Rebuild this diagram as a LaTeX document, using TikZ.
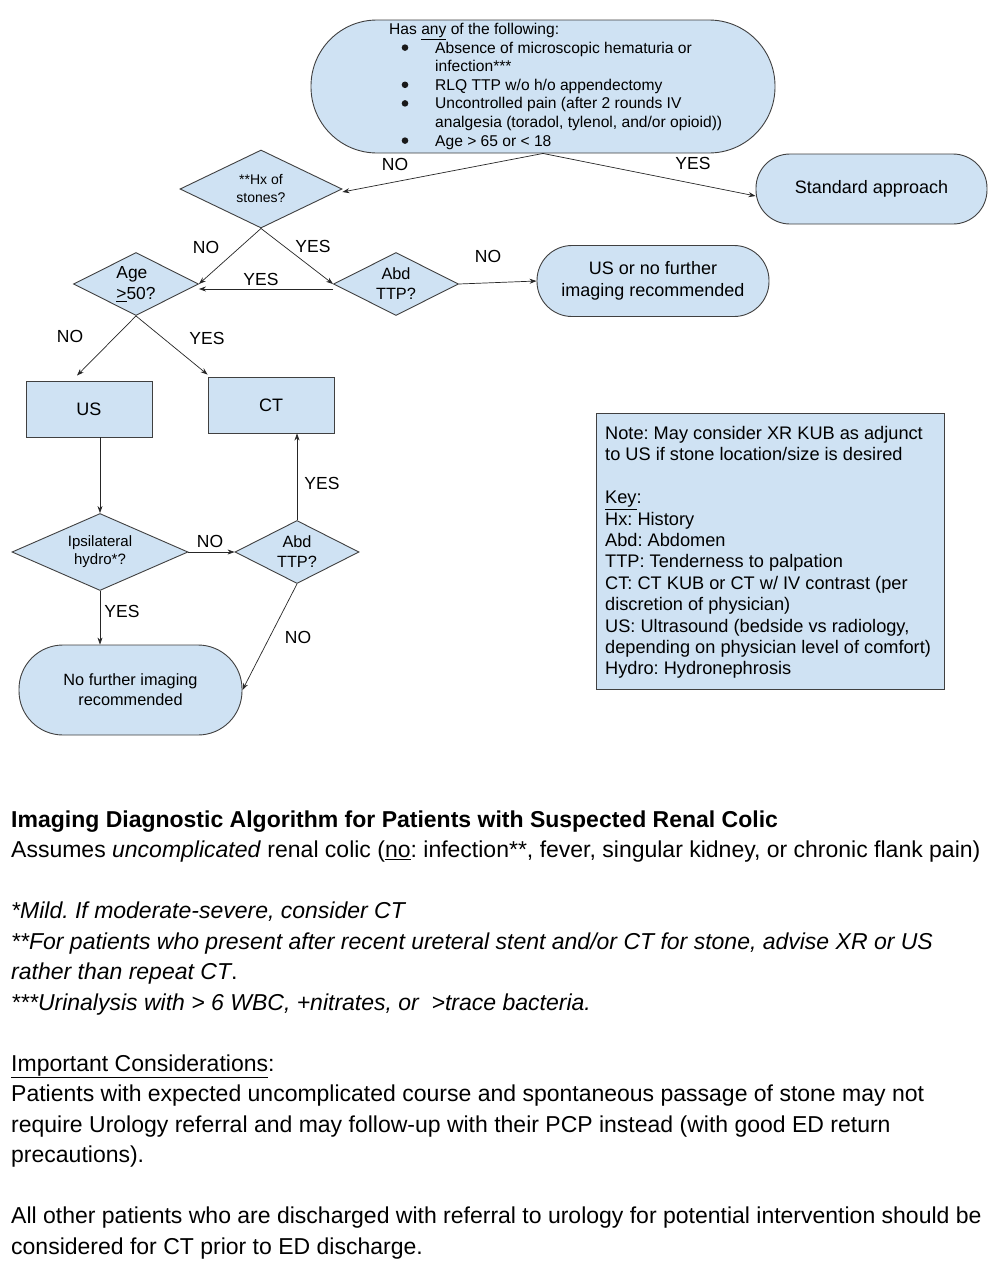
\documentclass[tikz,border=0pt]{standalone}
\usepackage{fontspec}
\setmainfont{Liberation Sans}
\usetikzlibrary{shapes.geometric,arrows.meta,calc}
\definecolor{boxfill}{HTML}{CFE2F3}
\definecolor{boxline}{HTML}{404040}
\begin{document}
\frenchspacing
\begin{tikzpicture}[x=1pt,y=-1pt,
  base/.style={draw=boxline, fill=boxfill, line width=0.9pt, inner sep=0pt, align=center},
  stadium/.style={base, rectangle, rounded corners=#1},
  box/.style={base, rectangle},
  decision/.style={base, diamond},
  arr/.style={-{Stealth[length=7pt,width=5pt]}, line width=0.7pt, black!85},
  lbl/.style={font=\fontsize{17.5}{20}\selectfont, inner sep=0pt},
  bul/.style={fill=black!90},
]
\useasboundingbox[fill=white] (0,0) rectangle (1006,1266);

% nodes
\node[stadium=66pt, minimum width=464pt, minimum height=133pt] (top) at (543,86.5) {};
\node[anchor=north west, inner sep=0pt, align=left, font=\fontsize{15.6}{18.6}\selectfont] (toptext) at (389,23) {Has \underline{any} of the following:\\
\hspace*{46pt}Absence of microscopic hematuria or\\
\hspace*{46pt}infection***\\
\hspace*{46pt}RLQ TTP w/o h/o appendectomy\\
\hspace*{46pt}Uncontrolled pain (after 2 rounds IV\\
\hspace*{46pt}analgesia (toradol, tylenol, and/or opioid))\\
\hspace*{46pt}Age > 65 or < 18};
\fill[bul] (405,47.6) circle (3.3pt);
\fill[bul] (405,84.8) circle (3.3pt);
\fill[bul] (405,103.4) circle (3.3pt);
\fill[bul] (405,140.6) circle (3.3pt);

\node[stadium=34pt, minimum width=231pt, minimum height=70pt, font=\fontsize{18}{21.4}\selectfont] (std) at (871.5,189) {Standard approach};
\node[decision, minimum width=162pt, minimum height=78pt, shape aspect=2.08, font=\fontsize{14}{18}\selectfont] (hx) at (261,189) {**Hx of\\stones?};
\node[decision, minimum width=125pt, minimum height=63pt, shape aspect=1.98, font=\fontsize{16.3}{20}\selectfont] (abdA) at (396,284) {Abd\\TTP?};
\node[decision, minimum width=125pt, minimum height=63pt, shape aspect=1.98, align=left, font=\fontsize{17.4}{21}\selectfont] (age) at (136,284) {Age\\\underline{>}50?};
\node[stadium=35pt, minimum width=232pt, minimum height=71pt, font=\fontsize{18}{21.4}\selectfont] (usno) at (653,281) {US or no further\\imaging recommended};
\node[box, minimum width=126pt, minimum height=56pt, font=\fontsize{18}{21.4}\selectfont] (us) at (89,409) {US};
\node[box, minimum width=126pt, minimum height=56pt, font=\fontsize{18}{21.4}\selectfont] (ct) at (271,405) {CT};
\node[decision, minimum width=176pt, minimum height=77pt, shape aspect=2.29, font=\fontsize{15}{18}\selectfont] (ipsi) at (100,552) {Ipsilateral\\hydro*?};
\node[decision, minimum width=124pt, minimum height=63pt, shape aspect=1.97, font=\fontsize{16.3}{20}\selectfont] (abdB) at (297,552) {Abd\\TTP?};
\node[stadium=44pt, minimum width=223pt, minimum height=90pt, font=\fontsize{16.3}{20}\selectfont] (nof) at (130.5,690) {No further imaging\\recommended};

\node[box, minimum width=348pt, minimum height=276pt] (note) at (770,551) {};
\node[anchor=north west, inner sep=0pt, align=left, font=\fontsize{18.2}{21.4}\selectfont] (notetext) at (605,426.2) {Note: May consider XR KUB as adjunct\\
to US if stone location/size is desired\\[21.4pt]
\underline{Key}:\\
Hx: History\\
Abd: Abdomen\\
TTP: Tenderness to palpation\\
CT: CT KUB or CT w/ IV contrast (per\\
discretion of physician)\\
US: Ultrasound (bedside vs radiology,\\
depending on physician level of comfort)\\
Hydro: Hydronephrosis};

% connectors
\draw[arr] (top.south) -- ($(hx.east)+(0,3)$);
\draw[arr] (top.south) -- ($(std.west)+(0,7)$);
\draw[arr] (hx.south) -- (age.east);
\draw[arr] (hx.south) -- (abdA.west);
\draw[arr] ($(abdA.west)+(0,5)$) -- ($(age.east)+(0,5)$);
\draw[arr] (abdA.east) -- (usno.west);
\draw[arr] (age.south) -- ($(us.north)+(-12,-5)$);
\draw[arr] (age.south) -- ($(ct.north west)+(0,-2)$);
\draw[arr] (us.south -| ipsi.north) -- (ipsi.north);
\draw[arr] (ipsi.east) -- (abdB.west);
\draw[arr] (abdB.north) -- (abdB.north |- ct.south);
\draw[arr] (ipsi.south) -- (ipsi.south |- nof.north);
\draw[arr] (abdB.south) -- (nof.east);

% labels
\node[lbl] (l1) at (395,164) {NO};
\node[lbl] (l2) at (693,163) {YES};
\node[lbl] (l3) at (206,247) {NO};
\node[lbl] (l4) at (313,246) {YES};
\node[lbl] (l5) at (261,279) {YES};
\node[lbl] (l6) at (488,256) {NO};
\node[lbl] (l7) at (70,336) {NO};
\node[lbl] (l8) at (207,338) {YES};
\node[lbl] (l9) at (210,541) {NO};
\node[lbl] (l10) at (322,483) {YES};
\node[lbl] (l11) at (122,611) {YES};
\node[lbl] (l12) at (298,637) {NO};

% footer text
\node[anchor=north west, inner sep=0pt, align=left, font=\fontsize{23}{30.5}\selectfont] (foot) at (11,810.5) {\textbf{Imaging Diagnostic Algorithm for Patients with Suspected Renal Colic}\\
Assumes \textit{uncomplicated} renal colic (\underline{no}: infection**, fever, singular kidney, or chronic flank pain)\\[30.5pt]
\textit{*Mild. If moderate-severe, consider CT}\\
\textit{**For patients who present after recent ureteral stent and/or CT for stone, advise XR or US}\\
\textit{rather than repeat CT}.\\
\textit{***Urinalysis with > 6 WBC, +nitrates, or \ >trace bacteria.}\\[30.5pt]
\underline{Important Considerations}:\\
Patients with expected uncomplicated course and spontaneous passage of stone may not\\
require Urology referral and may follow-up with their PCP instead (with good ED return\\
precautions).\\[30.5pt]
All other patients who are discharged with referral to urology for potential intervention should be\\
considered for CT prior to ED discharge.};
\end{tikzpicture}
\end{document}
